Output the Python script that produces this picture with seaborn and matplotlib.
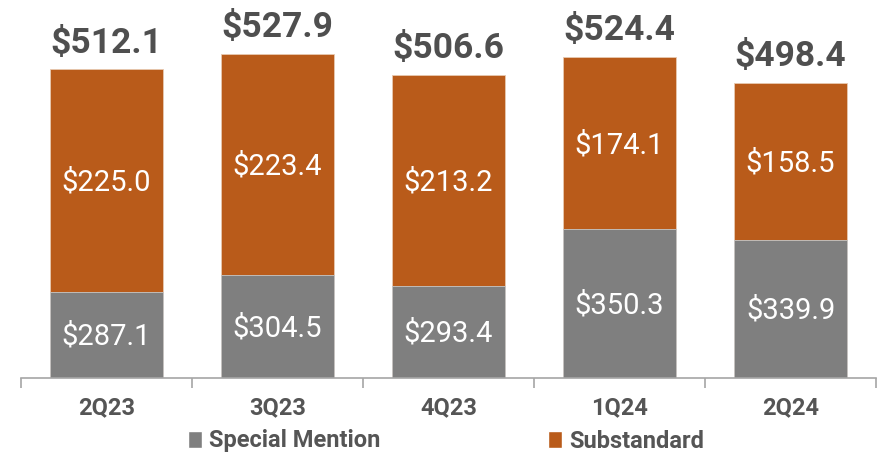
import matplotlib
matplotlib.use("Agg")
import matplotlib.pyplot as plt
import seaborn as sns
import pandas as pd
from matplotlib.patches import Patch

categories = ["2Q23", "3Q23", "4Q23", "1Q24", "2Q24"]
special_mention = [287.1, 304.5, 293.4, 350.3, 339.9]
substandard = [225.0, 223.4, 213.2, 174.1, 158.5]
totals = [512.1, 527.9, 506.6, 524.4, 498.4]

GRAY = "#7F7F7F"
ORANGE = "#B95B1A"
TEXT = "#555555"

sns.set_theme(style="white")
plt.rcParams["font.family"] = ["Roboto", "DejaVu Sans"]

df = pd.DataFrame({"cat": categories, "sm": special_mention,
                   "sub": substandard, "tot": totals})

fig = plt.figure(figsize=(8.78, 4.57), dpi=100)
ax = fig.add_axes([21 / 878, (457 - 378) / 457, (876 - 21) / 878, (378 - 22) / 457])

sns.barplot(data=df, x="cat", y="tot", color=ORANGE, width=0.66, ax=ax,
            saturation=1, edgecolor="#E8C9B0", linewidth=0.6)
sns.barplot(data=df, x="cat", y="sm", color=GRAY, width=0.66, ax=ax,
            saturation=1, edgecolor="#C8C8C8", linewidth=0.6)

ymin, ymax = 200, 560
ax.set_ylim(ymin, ymax)
ax.set_xlim(-0.5, len(categories) - 0.5)

for i, (sm, sub, tot) in enumerate(zip(special_mention, substandard, totals)):
    ax.text(i, (ymin + sm) / 2 - 2, f"${sm:.1f}", ha="center", va="center",
            color="white", fontsize=21)
    ax.text(i, sm + sub / 2 - 2, f"${sub:.1f}", ha="center", va="center",
            color="white", fontsize=21)
    ax.annotate(f"${tot:.1f}", (i, tot), xytext=(0, 7), textcoords="offset points",
                ha="center", va="bottom", color="#4F4F4F", fontsize=25.5,
                fontweight="bold")

for s in ["top", "right", "left"]:
    ax.spines[s].set_visible(False)
ax.spines["bottom"].set_color("#A6A6A6")
ax.spines["bottom"].set_linewidth(1.2)
ax.set_yticks([])
ax.set_xlabel("")
ax.set_ylabel("")
ax.set_xticks(range(len(categories)))
ax.set_xticklabels(categories, fontsize=17, fontweight="bold", color=TEXT)
ax.tick_params(axis="x", which="major", length=0, pad=13)
ax.set_xticks([i - 0.5 for i in range(len(categories) + 1)], minor=True)
ax.tick_params(axis="x", which="minor", length=7, width=1.2, color="#A6A6A6",
               direction="out", bottom=True)

handles = [Patch(facecolor=GRAY, label="Special Mention"),
           Patch(facecolor=ORANGE, label="Substandard")]
leg = fig.legend(handles=handles, loc="center", bbox_to_anchor=(0.508, 1 - 441 / 457),
                 ncol=2, frameon=False, fontsize=17, handlelength=0.6,
                 handleheight=0.7, handletextpad=0.3, columnspacing=7.1)
for t in leg.get_texts():
    t.set_color(TEXT)
    t.set_fontweight("bold")

fig.savefig("out.png", dpi=100)
